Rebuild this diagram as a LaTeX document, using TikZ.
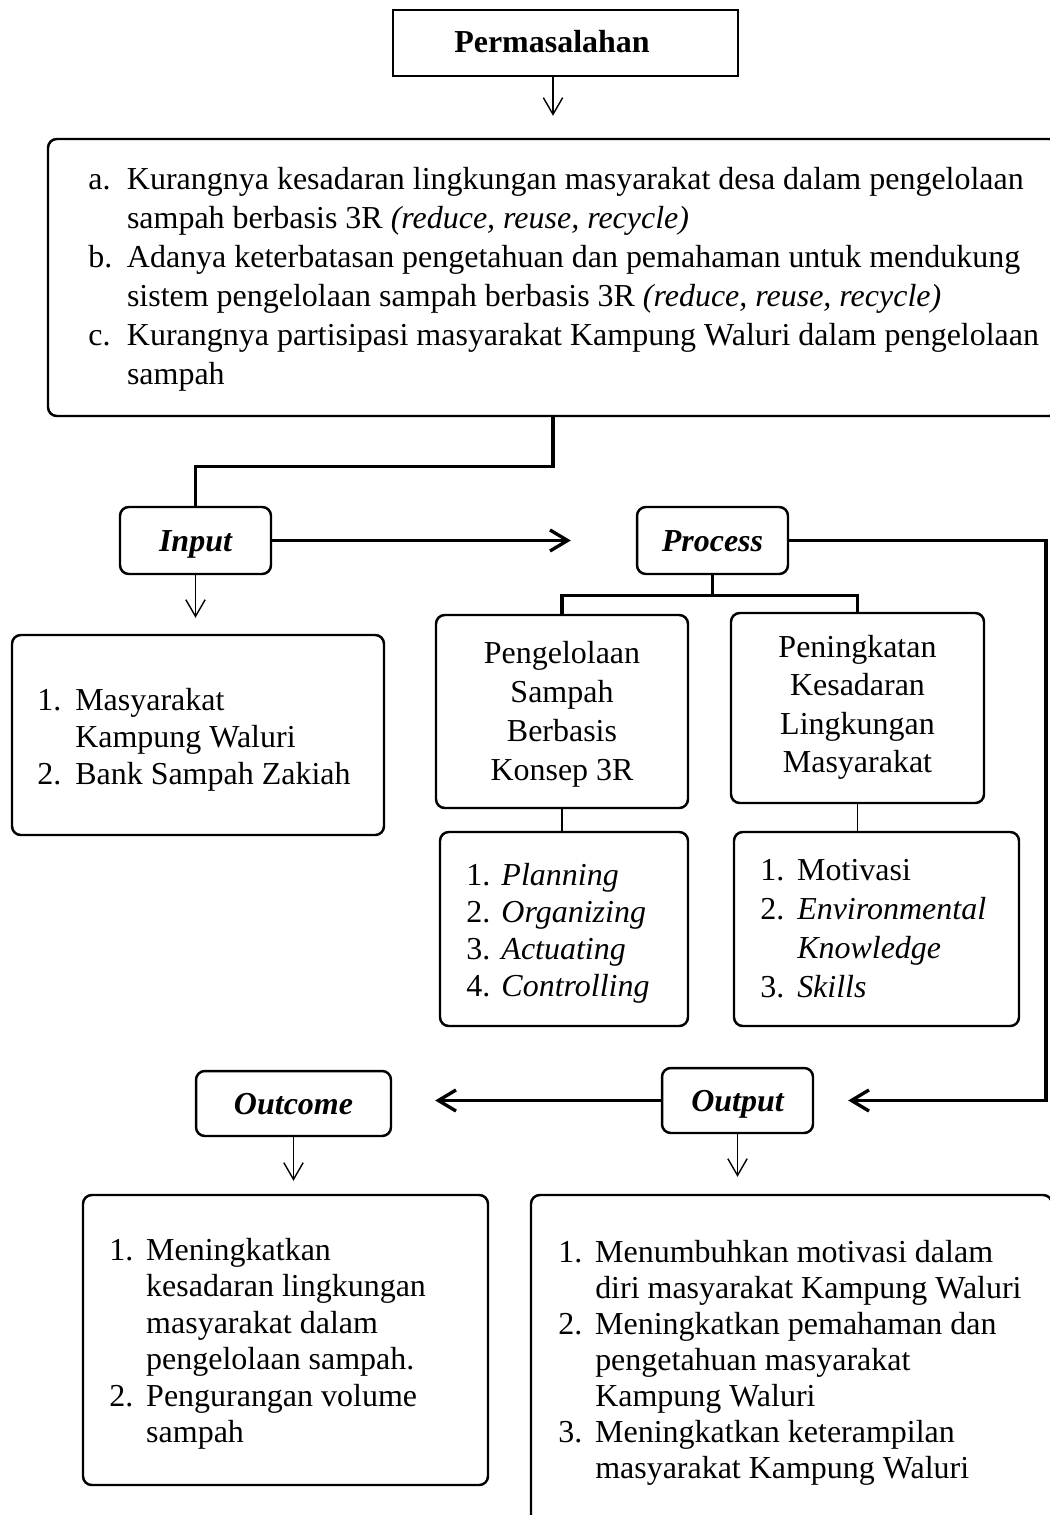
\documentclass[tikz,border=0pt]{standalone}
\usepackage{fontspec}
\setmainfont{Liberation Serif}
\usetikzlibrary{arrows.meta,fit}
\begin{document}
\begin{tikzpicture}[x=0.02cm,y=-0.02cm,
    box/.style={draw,line width=1.4pt,rounded corners=5pt,inner sep=0pt},
    lbl/.style={box,text height=12pt,text depth=0pt,font=\fontsize{18.2}{21}\selectfont\bfseries\itshape},
    itemtext/.style={anchor=base west,inner sep=0pt,font=\fontsize{18.2}{#1}\selectfont},
    midtext/.style={anchor=base,inner sep=0pt,font=\fontsize{18.2}{#1}\selectfont},
    heavy/.style={line width=1.9pt},
    thinarrow/.style={line width=0.8pt,-{Straight Barb[length=9.5pt,width=11pt]}},
    heavyarrow/.style={heavy,-{Straight Barb[length=10pt,width=12pt]}}]

\useasboundingbox (0,0) rectangle (1049,1515);

% permasalahan
\node[draw,line width=1.4pt,inner sep=0pt,fit={(393,10) (738,76)}] (masalah) {};
\node[anchor=base,inner sep=0pt,font=\fontsize{18.2}{21}\selectfont\bfseries] (masalahtxt) at (552,52) {Permasalahan};
\node[box,fit={(48,139) (1058,416)}] (masalahbox) {};
\node[itemtext=22.2pt] (masalahlist) at (88,189) {\begin{tabular}[t]{@{}p{22pt}@{}l@{}}
a. & Kurangnya kesadaran lingkungan masyarakat desa dalam pengelolaan\\
   & sampah berbasis 3R \textit{(reduce, reuse, recycle)}\\
b. & Adanya keterbatasan pengetahuan dan pemahaman untuk mendukung\\
   & sistem pengelolaan sampah berbasis 3R \textit{(reduce, reuse, recycle)}\\
c. & Kurangnya partisipasi masyarakat Kampung Waluri dalam pengelolaan\\
   & sampah
\end{tabular}};

% input, process
\node[lbl,minimum width=3.02cm,minimum height=1.34cm] (inp) at (195.5,540.5) {Input};
\node[lbl,minimum width=3.02cm,minimum height=1.34cm] (proc) at (712.5,540.5) {Process};
\node[box,fit={(12,635) (384,835)}] (inlistbox) {};
\node[itemtext=21.3pt] (inlist) at (37,710) {\begin{tabular}[t]{@{}p{21.6pt}@{}l@{}}
1. & Masyarakat\\
   & Kampung Waluri\\
2. & Bank Sampah Zakiah
\end{tabular}};

\node[box,fit={(436,615) (688,808)}] (pk1) {};
\node[midtext=22.2pt] (pk1txt) at (562,663) {\begin{tabular}[t]{@{}c@{}}Pengelolaan\\Sampah\\Berbasis\\Konsep 3R\end{tabular}};
\node[box,fit={(731,613) (984,803)}] (pk2) {};
\node[midtext=22pt] (pk2txt) at (857.5,657) {\begin{tabular}[t]{@{}c@{}}Peningkatan\\Kesadaran\\Lingkungan\\Masyarakat\end{tabular}};

\node[box,fit={(440,832) (688,1026)}] (plbox) {};
\node[itemtext=21.2pt] (pl) at (466,885) {\begin{tabular}[t]{@{}p{20pt}@{}l@{}}
1. & \textit{Planning}\\
2. & \textit{Organizing}\\
3. & \textit{Actuating}\\
4. & \textit{Controlling}
\end{tabular}};
\node[box,fit={(734,832) (1019,1026)}] (motbox) {};
\node[itemtext=22.2pt] (mot) at (760,880) {\begin{tabular}[t]{@{}p{21pt}@{}l@{}}
1. & Motivasi\\
2. & \textit{Environmental}\\
   & \textit{Knowledge}\\
3. & \textit{Skills}
\end{tabular}};

% output, outcome
\node[lbl,minimum width=3.9cm,minimum height=1.3cm] (outc) at (293.5,1103.5) {Outcome};
\node[lbl,minimum width=3.02cm,minimum height=1.3cm] (out) at (737.5,1100.5) {Output};
\node[box,fit={(83,1195) (488,1485)}] (oclbox) {};
\node[itemtext=20.8pt] (ocl) at (109,1260) {\begin{tabular}[t]{@{}p{21pt}@{}l@{}}
1. & Meningkatkan\\
   & kesadaran lingkungan\\
   & masyarakat dalam\\
   & pengelolaan sampah.\\
2. & Pengurangan volume\\
   & sampah
\end{tabular}};
\node[box,fit={(531,1195) (1052,1540)}] (oplbox) {};
\node[itemtext=20.5pt] (opl) at (558,1262) {\begin{tabular}[t]{@{}p{21pt}@{}l@{}}
1. & Menumbuhkan motivasi dalam\\
   & diri masyarakat Kampung Waluri\\
2. & Meningkatkan pemahaman dan\\
   & pengetahuan masyarakat\\
   & Kampung Waluri\\
3. & Meningkatkan keterampilan\\
   & masyarakat Kampung Waluri
\end{tabular}};

% connectors
\draw[thinarrow,shorten >=0.44cm] (masalahbox.north |- masalah.south) -- (masalahbox.north);
\draw[heavy] (masalahbox.south) -- ++(0,49) -| (inp.north);
\draw[thinarrow,shorten >=0.32cm] (inp.south) -- (inp.south |- inlistbox.north);
\draw[heavyarrow,shorten >=1.3cm] (inp.east) -- (proc.west);
\draw[heavy] (proc.south) -- ++(0,20) coordinate (fork);
\draw[heavy] (pk1.north) |- (fork) -| (pk2.north);
\draw[line width=0.6pt] (pk1.south) -- (pk1.south |- plbox.north);
\draw[line width=0.6pt] (pk2.south) -- (pk2.south |- motbox.north);
\coordinate (rightturn) at (1046,1100.5);
\draw[heavyarrow,shorten >=0.68cm] (proc.east) -| (rightturn) -- (out.east);
\draw[heavyarrow,shorten >=0.86cm] (out.west) -- (out.west -| outc.east);
\draw[thinarrow,shorten >=0.26cm] (outc.south) -- (outc.south |- oclbox.north);
\draw[thinarrow,shorten >=0.34cm] (out.south) -- (out.south |- oplbox.north);
\end{tikzpicture}
\end{document}
